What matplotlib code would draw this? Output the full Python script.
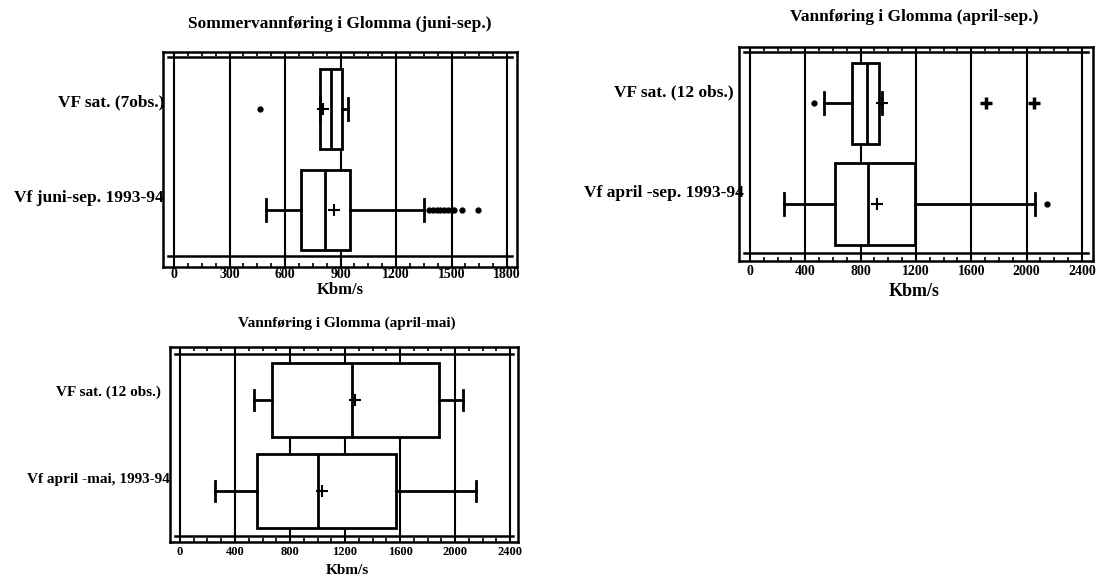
import matplotlib
matplotlib.use("Agg")
import matplotlib.pyplot as plt
from matplotlib.ticker import MultipleLocator

plt.rcParams['font.family'] = ['Liberation Serif', 'DejaVu Serif']
plt.rcParams['font.weight'] = 'bold'

W, H = 1099, 576

# Panel 1: Sommervannføring i Glomma (juni-sep.)
p1_title = "Sommervannføring i Glomma (juni-sep.)"
p1_labels = ["VF sat. (7obs.)", "Vf juni-sep. 1993-94"]
p1_whislo = [790, 498]
p1_q1 = [790, 686]
p1_med = [850, 818]
p1_q3 = [910, 952]
p1_whishi = [942, 1350]
p1_mean = [808, 866]
p1_fliers = [[466], [1380, 1400, 1420, 1440, 1460, 1480, 1500, 1515, 1555, 1645]]
p1_ticks = [0, 300, 600, 900, 1200, 1500, 1800]

# Panel 2: Vannføring i Glomma (april-sep.)
p2_title = "Vannføring i Glomma (april-sep.)"
p2_labels = ["VF sat. (12 obs.)", "Vf april -sep. 1993-94"]
p2_whislo = [532, 246]
p2_q1 = [735, 617]
p2_med = [845, 850]
p2_q3 = [930, 1195]
p2_whishi = [958, 2063]
p2_mean = [958, 915]
p2_fliers = [[466], [2146]]
p2_far = [[1705, 2055], []]
p2_ticks = [0, 400, 800, 1200, 1600, 2000, 2400]

# Panel 3: Vannføring i Glomma (april-mai)
p3_title = "Vannføring i Glomma (april-mai)"
p3_labels = ["VF sat. (12 obs.)", "Vf april -mai, 1993-94"]
p3_whislo = [539, 255]
p3_q1 = [666, 560]
p3_med = [1254, 1001]
p3_q3 = [1884, 1574]
p3_whishi = [2059, 2155]
p3_mean = [1270, 1032]
p3_fliers = [[], []]
p3_ticks = [0, 400, 800, 1200, 1600, 2000, 2400]


def px_rect(l, t, r, b):
    return [l / W, 1 - b / H, (r - l) / W, (b - t) / H]


def make_stats(whislo, q1, med, q3, whishi, mean, fliers):
    stats = []
    for i in range(len(med)):
        stats.append(dict(whislo=whislo[i], q1=q1[i], med=med[i], q3=q3[i],
                          whishi=whishi[i], mean=mean[i], fliers=fliers[i]))
    return stats


def draw_panel(fig, rect, xlim, ylim, inner, ticks, minor, stats, far=None,
               box_w=0.8, fs_tick=10, pad=2):
    ax = fig.add_axes(rect)
    pos = list(range(len(stats)))
    bp = ax.bxp(stats, positions=pos, vert=False, widths=box_w,
                showmeans=True, patch_artist=True, capwidths=0.22,
                boxprops=dict(facecolor='white', edgecolor='black', linewidth=2),
                medianprops=dict(color='black', linewidth=2),
                whiskerprops=dict(color='black', linewidth=2),
                capprops=dict(color='black', linewidth=2),
                meanprops=dict(marker='+', markeredgecolor='black',
                               markersize=8, markeredgewidth=1.5),
                flierprops=dict(marker='o', markerfacecolor='black',
                                markeredgecolor='black', markersize=3.5))
    # boxes above the grid, everything else above the boxes
    for b in bp['boxes']:
        b.set_zorder(3)
    for key in ['medians', 'whiskers', 'caps', 'means', 'fliers']:
        for artist in bp[key]:
            artist.set_zorder(4)
    if far:
        for i, vals in enumerate(far):
            if vals:
                ax.plot(vals, [pos[i]] * len(vals), linestyle='none', marker='+',
                        color='black', markersize=9, markeredgewidth=2.5, zorder=4)
    for t in ticks:
        ax.axvline(t, color='black', linewidth=1.5, zorder=1)
    span = xlim[1] - xlim[0]
    for y in inner:
        ax.plot([xlim[0] + span * 0.015, xlim[1] - span * 0.015],
                [y, y], color='black', linewidth=1.8, zorder=1)
    ax.set_xlim(*xlim)
    ax.set_ylim(*ylim)
    ax.set_yticks([])
    ax.set_xticks(ticks)
    ax.xaxis.set_minor_locator(MultipleLocator(minor))
    ax.tick_params(axis='x', which='major', length=0, pad=pad, labelsize=fs_tick)
    ax.tick_params(axis='x', which='minor', direction='in', length=3, width=1.2,
                   top=True, bottom=True)
    for lab in ax.get_xticklabels():
        lab.set_fontweight('bold')
    for s in ax.spines.values():
        s.set_linewidth(1.8)
    return ax


fig = plt.figure(figsize=(W / 100, H / 100), dpi=100)

# Panel 1
draw_panel(fig, px_rect(163, 52, 517, 267), (-59.5, 1854), (1.564, -0.564),
           [-0.51, 1.46], p1_ticks, 75,
           make_stats(p1_whislo, p1_q1, p1_med, p1_q3, p1_whishi, p1_mean, p1_fliers),
           box_w=0.79, pad=1)
fig.text(340 / W, 1 - 24 / H, p1_title, ha='center', va='center', fontsize=12.5)
fig.text(164 / W, 1 - 102 / H, p1_labels[0], ha='right', va='center', fontsize=12.5)
fig.text(164 / W, 1 - 198 / H, p1_labels[1], ha='right', va='center', fontsize=12.5)
fig.text(340 / W, 1 - 290 / H, "Kbm/s", ha='center', va='center', fontsize=12)

# Panel 2
draw_panel(fig, px_rect(739, 47, 1093, 261), (-79.5, 2480), (1.567, -0.56),
           [-0.51, 1.49], p2_ticks, 100,
           make_stats(p2_whislo, p2_q1, p2_med, p2_q3, p2_whishi, p2_mean, p2_fliers),
           far=p2_far, box_w=0.81, pad=3)
fig.text(914 / W, 1 - 17 / H, p2_title, ha='center', va='center', fontsize=12.5)
fig.text(734 / W, 1 - 92 / H, p2_labels[0], ha='right', va='center', fontsize=12.5)
fig.text(744 / W, 1 - 193 / H, p2_labels[1], ha='right', va='center', fontsize=12.5)
fig.text(914 / W, 1 - 291 / H, "Kbm/s", ha='center', va='center', fontsize=13)

# Panel 3
draw_panel(fig, px_rect(170, 347, 518, 542), (-72.7, 2458), (1.56, -0.58),
           [-0.505, 1.49], p3_ticks, 100,
           make_stats(p3_whislo, p3_q1, p3_med, p3_q3, p3_whishi, p3_mean, p3_fliers),
           box_w=0.81, fs_tick=9, pad=3)
fig.text(347 / W, 1 - 323 / H, p3_title, ha='center', va='center', fontsize=11)
fig.text(161 / W, 1 - 392 / H, p3_labels[0], ha='right', va='center', fontsize=11)
fig.text(170 / W, 1 - 480 / H, p3_labels[1], ha='right', va='center', fontsize=11)
fig.text(347 / W, 1 - 570 / H, "Kbm/s", ha='center', va='center', fontsize=11)

fig.savefig("out.png", dpi=100, facecolor='white')
